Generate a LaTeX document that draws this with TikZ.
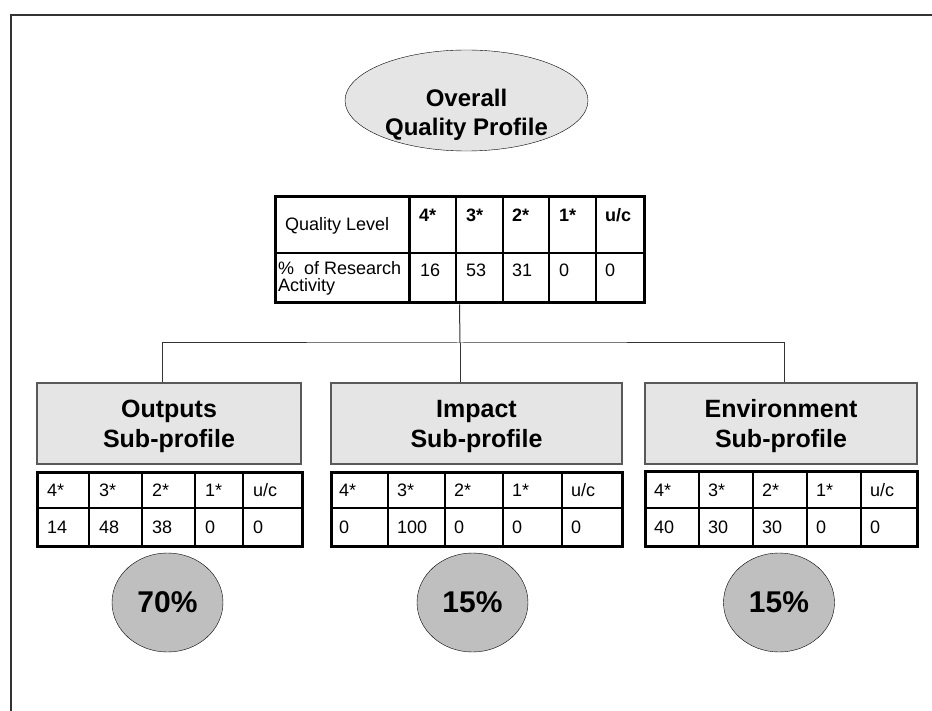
\documentclass[tikz,border=0pt]{standalone}
\usepackage{fontspec}
\setmainfont{Liberation Sans}
\usetikzlibrary{shapes.geometric}

\tikzset{
    frameline/.style={line width=2pt, black!80},
    profile/.style={ellipse, draw, thin, fill=gray!20, inner sep=0pt},
    profiletext/.style={inner sep=0pt, align=center, font=\bfseries\fontsize{24}{29}\selectfont},
    subbox/.style={draw=gray!70!black, line width=1.2pt, fill=gray!20, inner sep=0pt},
    subtitle/.style={inner sep=0pt, align=center, font=\bfseries\fontsize{25}{30}\selectfont},
    tabframe/.style={draw, line width=3pt, inner sep=0pt},
    cellline/.style={line width=1.2pt},
    cell/.style={anchor=base west, inner sep=0pt, align=left, font=\fontsize{18}{16}\selectfont},
    headcell/.style={cell, font=\bfseries\fontsize{18}{16}\selectfont},
    weight/.style={ellipse, draw, thin, fill=gray!50, inner sep=0pt,
        minimum width=111pt, minimum height=99pt, font=\bfseries\fontsize{30}{36}\selectfont},
    link/.style={line width=1pt, black!80}
}

\begin{document}
\begin{tikzpicture}[x=1pt, y=-1pt]
    \useasboundingbox (0,0) rectangle (932,711);
    \draw[frameline] (932,15) -- (11,15) -- (11,711);

    % overall profile
    \node[profile, minimum width=243pt, minimum height=101pt] (overall) at (466.5,100.5) {};
    \node[profiletext] (overalltitle) at ([yshift=-14pt]overall.center) {Overall\\Quality Profile};

    \node[tabframe, minimum width=369pt, minimum height=106pt] (qtable) at (459.5,250) {};
    \draw[cellline] (275,253) -- (644,253);
    \draw[line width=3pt] (409,197) -- (409,303);
    \draw[cellline] (456,197) -- (456,303);
    \draw[cellline] (503,197) -- (503,303);
    \draw[cellline] (549,197) -- (549,303);
    \draw[cellline] (596,197) -- (596,303);
    \node[cell, anchor=west] (qlevel) at (285,226) {Quality Level};
    \node[cell, anchor=north west, font=\fontsize{18}{17}\selectfont] (qshare) at (278,261) {\%\ \ of Research\\Activity};
    \node[headcell] (q4) at (419,222) {4*};
    \node[headcell] (q3) at (466,222) {3*};
    \node[headcell] (q2) at (512,222) {2*};
    \node[headcell] (q1) at (559,222) {1*};
    \node[headcell] (qu) at (605,222) {u/c};
    \node[cell] (v4) at (420,277) {16};
    \node[cell] (v3) at (466,277) {53};
    \node[cell] (v2) at (512,277) {31};
    \node[cell] (v1) at (559,277) {0};
    \node[cell] (vu) at (605,277) {0};

    % sub-profiles
    \node[subbox, minimum width=264pt, minimum height=81pt] (outputs) at (169,423.5) {};
    \node[subbox, minimum width=291pt, minimum height=81pt] (impact) at (476.5,423.5) {};
    \node[subbox, minimum width=272pt, minimum height=81pt] (environment) at (781,423.5) {};
    \node[subtitle] (outputstitle) at ([yshift=-3pt]outputs.center) {Outputs\\Sub-profile};
    \node[subtitle] (impacttitle) at ([yshift=-3pt]impact.center) {Impact\\Sub-profile};
    \node[subtitle] (environmenttitle) at ([yshift=-3pt]environment.center) {Environment\\Sub-profile};

    \coordinate (bus) at (460,343);
    \draw[link] (qtable.south) -- (bus);
    \draw[link] ([xshift=-7pt]outputs.north) |- (bus) -| ([xshift=3pt]environment.north);
    \draw[link] (bus) -- (bus |- impact.north);

    % outputs table
    \node[tabframe, minimum width=265pt, minimum height=74pt] (otable) at (169.5,509) {};
    \draw[cellline] (37,508) -- (302,508);
    \draw[cellline] (89,472) -- (89,546);
    \draw[cellline] (142,472) -- (142,546);
    \draw[cellline] (195,472) -- (195,546);
    \draw[cellline] (243,472) -- (243,546);
    \node[cell] (o4) at (47,496) {4*};
    \node[cell] (o3) at (99,496) {3*};
    \node[cell] (o2) at (152,496) {2*};
    \node[cell] (o1) at (205,496) {1*};
    \node[cell] (ou) at (253,496) {u/c};
    \node[cell] (ov4) at (47,533) {14};
    \node[cell] (ov3) at (99,533) {48};
    \node[cell] (ov2) at (152,533) {38};
    \node[cell] (ov1) at (205,533) {0};
    \node[cell] (ovu) at (253,533) {0};

    % impact table
    \node[tabframe, minimum width=291pt, minimum height=74pt] (itable) at (476.5,509) {};
    \draw[cellline] (331,508) -- (622,508);
    \draw[cellline] (388,472) -- (388,546);
    \draw[cellline] (445,472) -- (445,546);
    \draw[cellline] (503,472) -- (503,546);
    \draw[cellline] (562,472) -- (562,546);
    \node[cell] (i4) at (339,496) {4*};
    \node[cell] (i3) at (397,496) {3*};
    \node[cell] (i2) at (454,496) {2*};
    \node[cell] (i1) at (512,496) {1*};
    \node[cell] (iu) at (571,496) {u/c};
    \node[cell] (iv4) at (339,533) {0};
    \node[cell] (iv3) at (397,533) {100};
    \node[cell] (iv2) at (454,533) {0};
    \node[cell] (iv1) at (512,533) {0};
    \node[cell] (ivu) at (571,533) {0};

    % environment table
    \node[tabframe, minimum width=272pt, minimum height=75pt] (etable) at (781,508.5) {};
    \draw[cellline] (645,508) -- (917,508);
    \draw[cellline] (699,471) -- (699,546);
    \draw[cellline] (753,471) -- (753,546);
    \draw[cellline] (807,471) -- (807,546);
    \draw[cellline] (861,471) -- (861,546);
    \node[cell] (e4) at (654,496) {4*};
    \node[cell] (e3) at (708,496) {3*};
    \node[cell] (e2) at (762,496) {2*};
    \node[cell] (e1) at (816,496) {1*};
    \node[cell] (eu) at (870,496) {u/c};
    \node[cell] (ev4) at (654,533) {40};
    \node[cell] (ev3) at (708,533) {30};
    \node[cell] (ev2) at (762,533) {30};
    \node[cell] (ev1) at (816,533) {0};
    \node[cell] (evu) at (870,533) {0};

    % weights
    \node[weight] (oweight) at (167.5,602.5) {70\%};
    \node[weight] (iweight) at (472.5,602.5) {15\%};
    \node[weight] (eweight) at (779,602.5) {15\%};
\end{tikzpicture}
\end{document}
